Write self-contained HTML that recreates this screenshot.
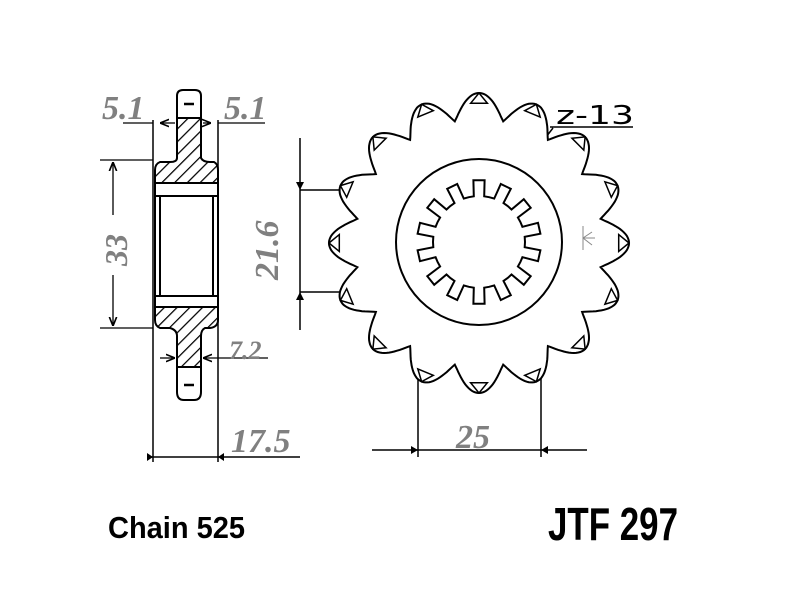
<!DOCTYPE html>
<html><head><meta charset="utf-8"><style>
html,body{margin:0;padding:0;background:#fff;width:800px;height:600px;overflow:hidden}
svg{display:block}
.g{fill:#808080;font-family:"Liberation Serif",serif;font-style:italic;font-weight:bold}
</style></head><body>
<svg id="s" width="800" height="600" viewBox="0 0 800 600" xmlns="http://www.w3.org/2000/svg">
<defs>
<pattern id="h" width="9" height="9" patternUnits="userSpaceOnUse" patternTransform="rotate(45)">
<rect width="9" height="9" fill="#fff"/><line x1="0" y1="0" x2="0" y2="9" stroke="#000" stroke-width="2.5"/>
</pattern>
<marker id="a" viewBox="0 0 10 10" refX="10" refY="5" markerWidth="7" markerHeight="7" orient="auto-start-reverse"><path d="M0,1 L10,5 L0,9" fill="none" stroke="#000" stroke-width="1.8"/></marker>
</defs>
<g stroke="#000" stroke-width="2" fill="none">
<path d="M177,118 L177,96 Q177,90 183,90 L195,90 Q201,90 201,96 L201,118 Z" fill="#fff"/>
<path d="M177,118 L201,118 L201,158 Q203,162 210,162 L214,162 Q218,164 218,170 L218,183 L155,183 L155,170 Q155,164 160,162 L170,162 Q177,162 177,158 Z" fill="url(#h)"/>
<rect x="155" y="183" width="63" height="13" fill="#fff"/>
<rect x="160" y="196" width="53" height="100" fill="#fff"/>
<path d="M155,196 L155,300 M218,196 L218,300"/>
<rect x="155" y="296" width="63" height="11" fill="#fff"/>
<path d="M155,307 L218,307 L218,320 Q218,327 210,328 L205,328 Q201,330 201,336 L201,367 L177,367 L177,336 Q177,330 170,328 L160,328 Q155,326 155,320 Z" fill="url(#h)"/>
<path d="M177,367 L201,367 L201,392 Q201,400 194,400 L184,400 Q177,400 177,392 Z" fill="#fff"/>
<path d="M184,104 L194,104 M184,385 L194,385" stroke-width="2.5"/>
<line x1="153" y1="120" x2="153" y2="462" stroke-width="1.5"/>
<line x1="218" y1="120" x2="218" y2="462" stroke-width="1.5"/>
<line x1="123" y1="123" x2="153" y2="123" stroke-width="1.3"/>
<line x1="218" y1="123" x2="265" y2="123" stroke-width="1.3"/>
<line x1="160" y1="123" x2="175" y2="123" stroke-width="1.3" marker-start="url(#a)"/>
<line x1="203" y1="123" x2="211" y2="123" stroke-width="1.3" marker-end="url(#a)"/>
<line x1="100" y1="160" x2="153" y2="160" stroke-width="1.3"/>
<line x1="100" y1="328" x2="153" y2="328" stroke-width="1.3"/>
<line x1="113" y1="215" x2="113" y2="162" stroke-width="1.3" marker-end="url(#a)"/>
<line x1="113" y1="275" x2="113" y2="326" stroke-width="1.3" marker-end="url(#a)"/>
<line x1="160" y1="358" x2="175" y2="358" stroke-width="1.3" marker-end="url(#a)"/>
<line x1="268" y1="358" x2="203" y2="358" stroke-width="1.3" marker-end="url(#a)"/>
<line x1="148" y1="457" x2="300" y2="457" stroke-width="1.5"/>
<line x1="300" y1="138" x2="300" y2="330" stroke-width="1.5"/>
<line x1="300" y1="190" x2="460" y2="190" stroke-width="1.5"/>
<line x1="300" y1="292" x2="480" y2="292" stroke-width="1.5"/>
<line x1="418" y1="233" x2="418" y2="457" stroke-width="1.5"/>
<line x1="541" y1="230" x2="541" y2="457" stroke-width="1.5"/>
<line x1="372" y1="450" x2="587" y2="450" stroke-width="1.5"/>
<path d="M553,128 L505,190 M550,127 L633,127" stroke-width="1.5"/>
<path id="gear" fill="#fff"/>
<circle cx="479" cy="242" r="83" stroke-width="2"/>
<path id="spl" fill="#fff"/>
<g id="tips"></g>
<path d="M583,226 L583,250 M583,238 L592,232 M583,238 L595,238 M583,238 L592,245" stroke="#888" stroke-width="1"/>
</g>
<g fill="#000">
<path d="M300,190 l-4,-8 l8,0 Z M300,292 l-4,8 l8,0 Z M153,457 l-6,-4 l0,8 Z M218,457 l6,-4 l0,8Z M418,450 l-7,-4 l0,8Z M541,450 l7,-4 l0,8Z"/>
</g>
<text class="g" x="102" y="119" font-size="34">5.1</text>
<text class="g" x="224" y="119" font-size="34">5.1</text>
<text class="g" x="0" y="0" font-size="32" transform="translate(127,266) rotate(-90)">33</text>
<text class="g" x="0" y="0" font-size="34" transform="translate(278,280) rotate(-90)">21.6</text>
<text class="g" x="229" y="359" font-size="26">7.2</text>
<text class="g" x="231" y="452" font-size="34">17.5</text>
<text class="g" x="456" y="448" font-size="34">25</text>
<text x="556" y="124" font-family="'DejaVu Sans',sans-serif" font-size="26" fill="#000" textLength="78" lengthAdjust="spacingAndGlyphs">z-13</text>
<text x="108" y="538" font-family="'Liberation Sans',sans-serif" font-weight="bold" font-size="31" fill="#000" textLength="137" lengthAdjust="spacingAndGlyphs">Chain 525</text>
<text x="548" y="540" font-family="'Liberation Sans',sans-serif" font-weight="bold" font-size="46" fill="#000" textLength="130" lengthAdjust="spacingAndGlyphs">JTF 297</text>
</svg>
<script>
(function(){
var cx=479,cy=243,N=16,Rt=150,Rr=124;
var d="";
for(var i=0;i<=N*32;i++){
 var a=i/(N*32)*2*Math.PI - Math.PI/2;
 var ph=(i%32)/32;
 var t=Math.cos(ph*2*Math.PI);
 var r=Rr+(Rt-Rr)*Math.pow((t+1)/2,0.55);
 var x=cx+r*Math.cos(a),y=cy+r*Math.sin(a);
 d+=(i?"L":"M")+x.toFixed(1)+","+y.toFixed(1);
}
document.getElementById("gear").setAttribute("d",d+"Z");
var tips="";
for(var k=0;k<N;k++){
 var a=k/N*2*Math.PI-Math.PI/2,b=0.06;
 var p=function(r,aa){return (cx+r*Math.cos(aa)).toFixed(1)+","+(cy+r*Math.sin(aa)).toFixed(1);};
 tips+='<path d="M'+p(140,a-b)+' L'+p(150,a)+' L'+p(140,a+b)+' Z" fill="#fff" stroke-width="1.5"/>';
}
document.getElementById("tips").innerHTML=tips;
var M=14,R1=62,R2=46,s="";
for(var j=0;j<M;j++){
 var a0=j/M*2*Math.PI-Math.PI/2,w=2*Math.PI/M;
 var pts=[[R2,a0-w*0.5],[R2,a0-w*0.25],[R1,a0-w*0.2],[R1,a0+w*0.2],[R2,a0+w*0.25]];
 pts.forEach(function(q,n){s+=((j==0&&n==0)?"M":"L")+(cx+q[0]*Math.cos(q[1])).toFixed(1)+","+(cy-1+q[0]*Math.sin(q[1])).toFixed(1);});
}
document.getElementById("spl").setAttribute("d",s+"Z");
})();
</script>
</body></html>
